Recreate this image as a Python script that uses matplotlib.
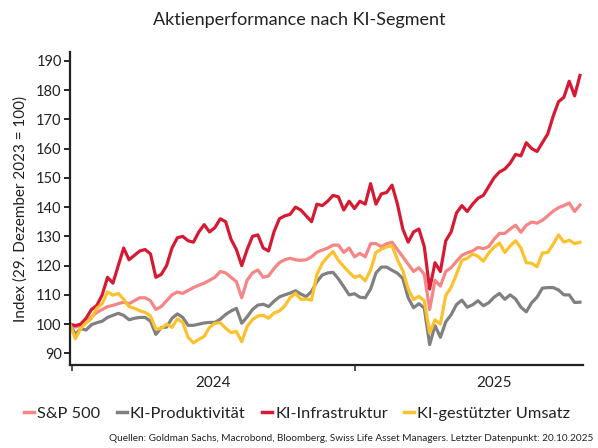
import matplotlib
matplotlib.use("Agg")
import matplotlib.pyplot as plt
import matplotlib.dates as mdates
import pandas as pd

# about weekly readings, 29.12.2023 .. 20.10.2025
dates = pd.date_range("2023-12-29", "2025-10-20", periods=96)

sp500 = [100, 99, 99.5, 100.5, 102.5, 104, 105, 106, 106.4, 107,
         107.5, 107, 108, 109, 109, 108, 105, 106, 108, 110,
         111, 110.5, 111.5, 112.5, 113.3, 114, 115, 116, 118, 117.5,
         116, 114.5, 109, 115, 117.5, 118.5, 116, 116.5, 119, 121,
         122, 122.5, 122, 121.8, 122, 123, 124.6, 125.3, 126, 127,
         127, 124.5, 126, 123, 124.2, 123, 127.5, 127.5, 126.5, 127.5,
         128, 125.5, 123, 120.5, 118, 119.3, 117, 105, 115, 113,
         118, 119.3, 121.5, 123.5, 124.4, 125, 126.2, 125.8, 126.5, 129,
         131, 131, 132.5, 133.8, 131.4, 133.8, 134.9, 134.5, 135.5, 137,
         138.6, 139.8, 140.5, 141.4, 138.5, 140.7]

produktivitaet = [100, 96.5, 98.5, 98, 99.8, 100.5, 101, 102.3, 103, 103.7,
                  103, 101.5, 102, 102.3, 102.3, 101, 96.5, 98.8, 99, 102,
                  103.5, 102.3, 99.6, 99.6, 100, 100.4, 100.6, 100.6, 101.7, 103.3,
                  104.5, 105.4, 100.3, 102.5, 105, 106.5, 106.8, 106, 107.8, 109.3,
                  110, 110.6, 111.4, 110.3, 109.4, 111.2, 114.5, 116.8, 117.5, 117.7,
                  115.5, 112.8, 110, 110.4, 109.2, 109, 112, 117.5, 119.5, 119.5,
                  118.4, 117.4, 115.6, 109, 105.6, 107, 105.5, 93, 99.5, 95.5,
                  100.8, 103.2, 106.7, 108.2, 105.8, 106.6, 108, 106.3, 107.3, 109.2,
                  110.5, 108.5, 110, 108.6, 105.8, 104.2, 107.3, 109.2, 112.3, 112.5,
                  112.5, 111.7, 110, 110, 107.4, 107.5]

infrastruktur = [100, 99.5, 100, 102, 105, 106.4, 110, 116, 114, 120,
                 126, 122, 123.5, 125, 125.5, 124, 116, 117, 120, 126,
                 129.5, 130, 128.5, 128, 131.5, 134, 131.5, 133, 136, 135,
                 129, 125.5, 120, 125.5, 130, 130.5, 126, 125, 131.5, 136,
                 137, 137.5, 140, 139, 137, 135, 141, 140.5, 142, 144,
                 143.5, 139, 142, 139.5, 142, 141, 148, 141, 144.5, 145,
                 147.5, 141, 132.5, 128, 131.5, 132.5, 126.5, 112, 121, 118,
                 128.5, 131.5, 138, 140.5, 138.5, 141, 143, 144, 147, 150,
                 152, 153, 155, 158, 157.5, 162, 160, 159, 162, 165,
                 171, 176, 177.5, 183, 178, 185]

umsatz = [100, 95, 98.5, 100.5, 102, 105.4, 107, 111, 109.9, 110.5,
          108.5, 106, 105.4, 104.6, 104, 102.8, 98.3, 98.5, 100, 98.9,
          101.8, 100.6, 95.5, 93.6, 94.8, 95.8, 98.9, 100.3, 100.5, 98.6,
          97.1, 97.5, 94, 99.2, 101.6, 102.8, 103, 102, 103.8, 104.5,
          106.2, 109, 110.6, 108.5, 108.6, 108.2, 117, 120.8, 123, 124.8,
          121.8, 119.7, 117.7, 116, 116.6, 114.8, 118.5, 124.5, 125.6, 126.4,
          126.8, 122, 118.3, 112, 108.4, 109.5, 108, 97, 101.5, 100,
          109.8, 112.6, 117, 121.8, 122.5, 124, 123.2, 121.5, 124.3, 126.3,
          127.7, 124.5, 126.7, 128.5, 126, 121, 120.8, 119.6, 124.3, 124.5,
          127.3, 130.5, 128, 128.7, 127.5, 128]

series = [("S&P 500", sp500, "#f68585"),
          ("KI-Produktivität", produktivitaet, "#808080"),
          ("KI-Infrastruktur", infrastruktur, "#d71a33"),
          ("KI-gestützter Umsatz", umsatz, "#fcc12d")]

plt.rcParams["font.family"] = ["Lato", "DejaVu Sans"]
txt = "#222222"

fig = plt.figure(figsize=(5.98, 4.48), dpi=100)
ax = fig.add_axes([0.117, 0.185, 0.858, 0.699])

for name, vals, col in series:
    ax.plot(dates, vals, color=col, lw=2.3, label=name, solid_joinstyle="round")

ax.set_xlim(pd.Timestamp("2023-12-29"), pd.Timestamp("2025-10-24"))
ax.set_ylim(86, 193)
ax.set_yticks(range(90, 191, 10))

ax.xaxis.set_major_locator(mdates.YearLocator())
ax.xaxis.set_major_formatter(plt.NullFormatter())
ax.xaxis.set_minor_locator(mdates.MonthLocator(bymonth=7))
ax.xaxis.set_minor_formatter(mdates.DateFormatter("%Y"))
ax.tick_params(axis="x", which="major", length=4, width=1.2, color="#333333")
ax.tick_params(axis="x", which="minor", length=0, pad=8, labelsize=11, labelcolor=txt)
ax.tick_params(axis="y", length=4, width=1.2, labelsize=10.5, labelcolor=txt, pad=2)

for s in ["top", "right"]:
    ax.spines[s].set_visible(False)
for s in ["left", "bottom"]:
    ax.spines[s].set_linewidth(1.6)
    ax.spines[s].set_color("#222222")

ax.set_ylabel("Index (29. Dezember 2023 = 100)", fontsize=11, color=txt, labelpad=6)
fig.text(0.5, 0.955, "Aktienperformance nach KI-Segment", ha="center", va="center",
         fontsize=13, color=txt)

leg = fig.legend(loc="center", bbox_to_anchor=(0.497, 0.076), ncol=4, frameon=False,
                 fontsize=11.8, handlelength=0.6, handletextpad=0.2, columnspacing=1.0,
                 borderaxespad=0)
for t in leg.get_texts():
    t.set_color(txt)
for h in leg.get_lines():
    h.set_linewidth(2.5)

fig.text(0.993, 0.022, "Quellen: Goldman Sachs, Macrobond, Bloomberg, Swiss Life Asset Managers. "
         "Letzter Datenpunkt: 20.10.2025", ha="right", va="center", fontsize=7.2, color=txt)

fig.savefig("out.png", dpi=100)
